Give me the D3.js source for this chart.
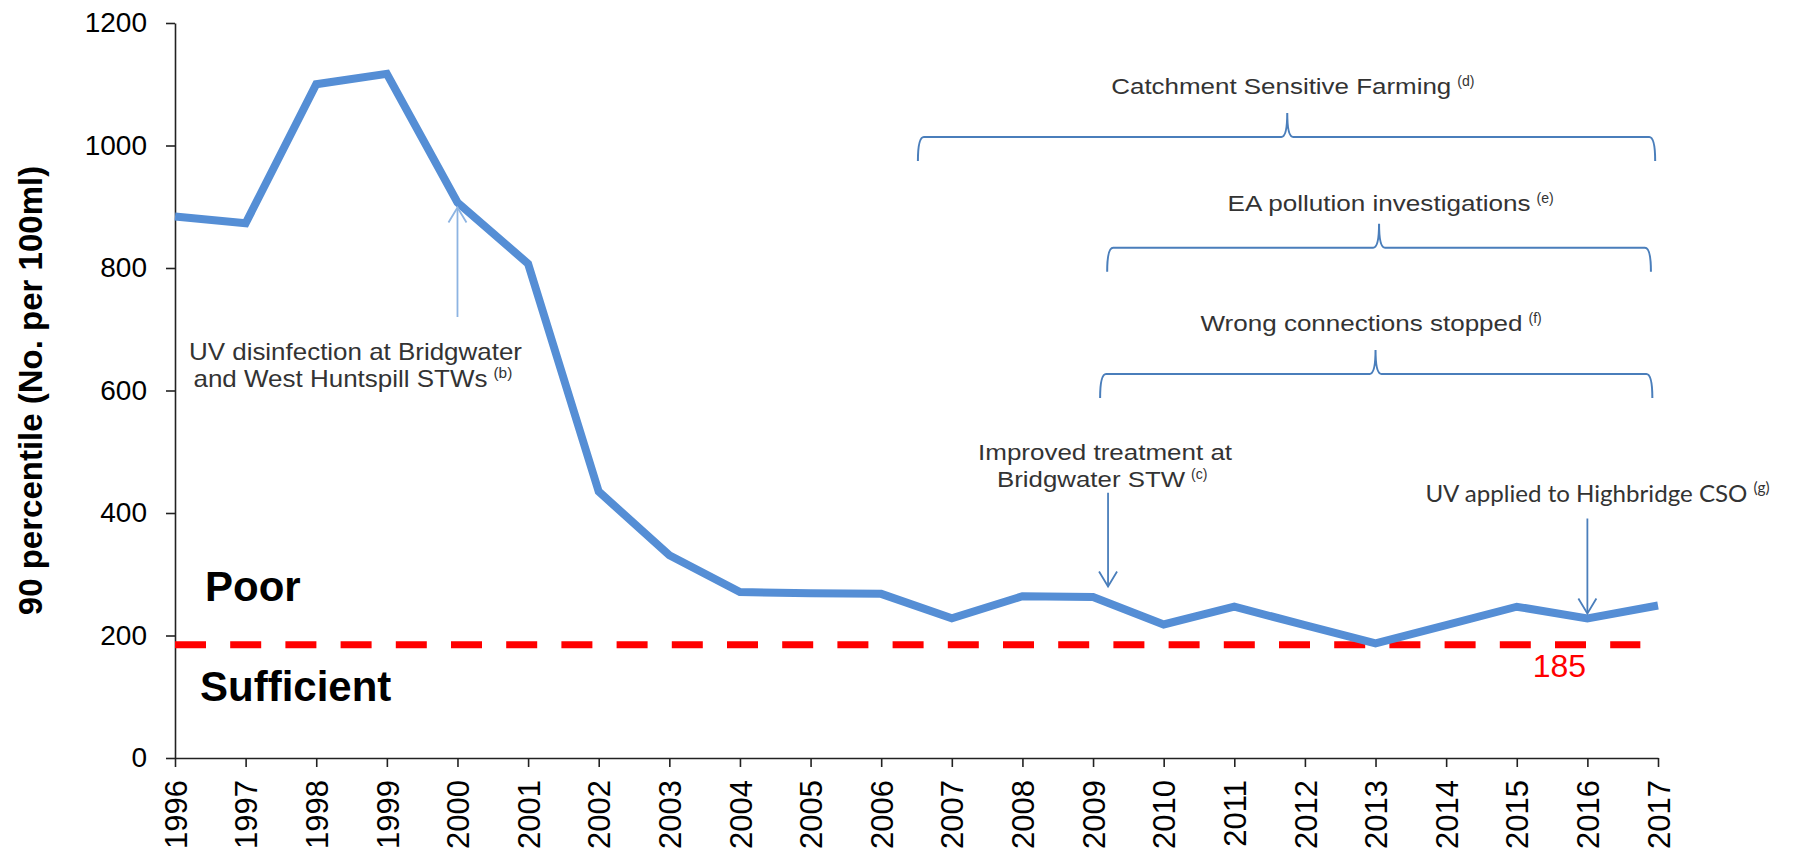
<!DOCTYPE html>
<html lang="en">
	<head>
		<meta charset="utf-8">
		<title>90 percentile chart</title>
		<script src="https://cdn.jsdelivr.net/npm/d3@7"></script>
		<style>
			body { margin: 0; background: #fff; }
			svg { display: block; }
		</style>
	</head>
	<body>
		<script>

			var w = 1815;
			var h = 856;

			// data
			var years = [1996, 1997, 1998, 1999, 2000, 2001, 2002, 2003, 2004, 2005, 2006,
			             2007, 2008, 2009, 2010, 2011, 2012, 2013, 2014, 2015, 2016, 2017];
			var values = [884, 873, 1100, 1117, 907, 807, 435, 331, 271, 269, 268,
			              228, 264, 263, 218, 247, 217, 187, 217, 247, 228, 249];
			var yTicks = [0, 200, 400, 600, 800, 1000, 1200];

			var threshold = 185;
			var thresholdSpan = [1996, 2016.75];

			// bracket annotations: start year, end year, peak year, level
			var bracketLabels = ["Catchment Sensitive Farming", "EA pollution investigations", "Wrong connections stopped"];
			var bracketNotes = ["d", "e", "f"];
			var bracketFrom = [2006.52, 2009.2, 2009.1];
			var bracketTo = [2016.96, 2016.9, 2016.92];
			var bracketMid = [2011.75, 2013.05, 2013.0];
			var bracketLevel = [1014, 833, 627];

			var x = d3.scaleLinear().domain([1996, 2017]).range([175, 1658]);
			var y = d3.scaleLinear().domain([0, 1200]).range([758, 23]);

			var svg = d3.select("body").append("svg")
				.attr("width", w)
				.attr("height", h);

			var sans = "'Liberation Sans', Arial, sans-serif";
			var textCol = "#333";
			var braceCol = "#4a7ebb";

			//axes
			var yAxis = d3.axisLeft(y).tickValues(yTicks).tickFormat(d3.format("d"))
				.tickSize(9).tickSizeOuter(0).tickPadding(19);
			var gy = svg.append("g").attr("transform", "translate(" + x(1996) + ",0)").call(yAxis);
			gy.selectAll("text").attr("font-size", 28).attr("font-family", sans).attr("fill", "#000");

			var xAxis = d3.axisBottom(x).tickValues(years).tickFormat(d3.format("d")).tickSize(9).tickSizeOuter(0);
			var gx = svg.append("g").attr("transform", "translate(0," + y(0) + ")").call(xAxis);
			gx.selectAll("text")
				.attr("transform", "rotate(-90)")
				.attr("text-anchor", "end")
				.attr("x", -22)
				.attr("y", 0)
				.attr("dy", "0.36em")
				.attr("font-size", 31)
				.attr("font-family", sans)
				.attr("fill", "#000");

			svg.selectAll(".domain, .tick line").attr("stroke", "#222").attr("stroke-width", 1.6);

			svg.append("text")
				.attr("transform", "translate(42," + y(600) + ") rotate(-90)")
				.attr("text-anchor", "middle")
				.attr("font-size", 33)
				.attr("font-weight", "bold")
				.attr("font-family", sans)
				.text("90 percentile (No. per 100ml)");

			//threshold line
			var tline = d3.line().x(function(d){ return x(d); }).y(function(){ return y(threshold); });
			svg.append("path")
				.attr("d", tline(thresholdSpan))
				.attr("stroke", "#ff0000")
				.attr("stroke-width", 7)
				.attr("stroke-dasharray", "31 24.2")
				.attr("fill", "none");

			svg.append("text")
				.attr("x", x(2016) - 28)
				.attr("y", y(threshold) + 32)
				.attr("text-anchor", "middle")
				.attr("font-size", 32)
				.attr("font-family", sans)
				.attr("fill", "#ff0000")
				.text(threshold);

			svg.append("text")
				.attr("x", x(1996) + 30)
				.attr("y", y(256))
				.attr("font-size", 42)
				.attr("font-weight", "bold")
				.attr("font-family", sans)
				.text("Poor");

			svg.append("text")
				.attr("x", x(1996) + 25)
				.attr("y", y(93))
				.attr("font-size", 42)
				.attr("font-weight", "bold")
				.attr("font-family", sans)
				.text("Sufficient");

			//the data line
			var line = d3.line()
				.x(function(d, i){ return x(years[i]); })
				.y(function(d){ return y(d); });

			svg.append("path")
				.attr("d", line(values))
				.attr("fill", "none")
				.attr("stroke", "#558ed5")
				.attr("stroke-width", 8)
				.attr("stroke-linejoin", "miter");

			//text with a superscript note after it
			function note(cx, base, str, len, size, family, sup){
				var x0 = cx - len / 2;
				svg.append("text")
					.attr("x", x0)
					.attr("y", base)
					.attr("font-size", size)
					.attr("font-family", family)
					.attr("fill", textCol)
					.attr("textLength", len)
					.attr("lengthAdjust", "spacingAndGlyphs")
					.text(str);
				if(sup){
					svg.append("text")
						.attr("x", x0 + len + 6)
						.attr("y", base - size * 0.36)
						.attr("font-size", size * 0.64)
						.attr("font-family", family)
						.attr("fill", textCol)
						.text("(" + sup + ")");
				}
			}

			function arrow(px, y1, y2, col, up){
				svg.append("line")
					.attr("x1", px).attr("x2", px)
					.attr("y1", y1).attr("y2", y2)
					.attr("stroke", col).attr("stroke-width", 1.8);
				var s = up ? 1 : -1;
				svg.append("path")
					.attr("d", "M" + (px - 9) + "," + (y2 + s * 15) + "L" + px + "," + y2 + "L" + (px + 9) + "," + (y2 + s * 15))
					.attr("fill", "none")
					.attr("stroke", col)
					.attr("stroke-width", 1.8);
			}

			//brackets
			for(var i = 0; i < bracketLabels.length; i++){
				var xl = x(bracketFrom[i]), xr = x(bracketTo[i]), xm = x(bracketMid[i]);
				var yl = y(bracketLevel[i]);
				var p = d3.path();
				p.moveTo(xl, yl + 24);
				p.quadraticCurveTo(xl, yl, xl + 6, yl);
				p.lineTo(xm - 6, yl);
				p.quadraticCurveTo(xm, yl, xm, yl - 24);
				p.quadraticCurveTo(xm, yl, xm + 6, yl);
				p.lineTo(xr - 6, yl);
				p.quadraticCurveTo(xr, yl, xr, yl + 24);
				svg.append("path")
					.attr("d", p.toString())
					.attr("fill", "none")
					.attr("stroke", braceCol)
					.attr("stroke-width", 2);
			}
			note(x(bracketMid[0]) - 6, y(bracketLevel[0]) - 43, bracketLabels[0], 340, 22, sans, bracketNotes[0]);
			note(x(bracketMid[1]), y(bracketLevel[1]) - 37, bracketLabels[1], 303, 22, sans, bracketNotes[1]);
			note(x(bracketMid[2]) - 14, y(bracketLevel[2]) - 43, bracketLabels[2], 322, 22, sans, bracketNotes[2]);

			//point annotations
			arrow(x(2000), y(720), y(907) + 5, "#8db4e2", true);
			note(x(2000) - 102, y(720) + 43, "UV disinfection at Bridgwater", 333, 24, sans, null);
			note(x(2000) - 117, y(720) + 70, "and West Huntspill STWs", 294, 24, sans, "b");

			arrow(x(2009) + 15, y(433), y(280), braceCol, false);
			note(x(2009) + 12, y(433) - 33, "Improved treatment at", 254, 22, sans, null);
			note(x(2009) - 2, y(433) - 6, "Bridgwater STW", 188, 22, sans, "c");

			arrow(x(2016), y(391), y(236), braceCol, false);
			note(x(2016) - 1, y(391) - 17, "UV applied to Highbridge CSO", 322, 24, "Lato, 'Open Sans', sans-serif", "g");

		</script>
	</body>
</html>
